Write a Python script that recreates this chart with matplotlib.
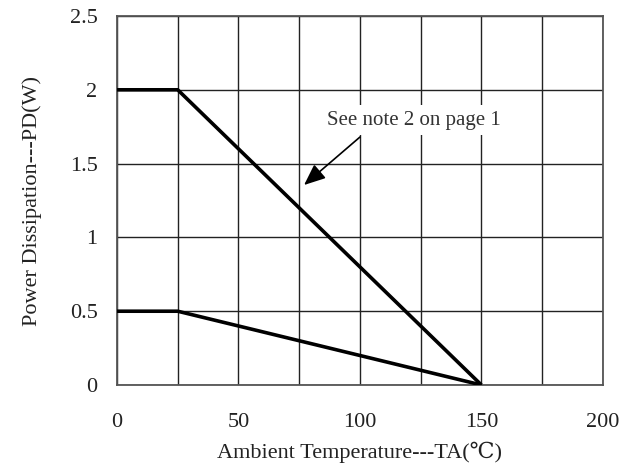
import matplotlib
matplotlib.use("Agg")
import matplotlib.pyplot as plt

# derating curves
temp = [0, 25, 150]
pd_high = [2.0, 2.0, 0.0]
pd_low = [0.5, 0.5, 0.0]

x_ticks = [0, 50, 100, 150, 200]
y_ticks = [0, 0.5, 1, 1.5, 2, 2.5]
y_tick_labels = ["0", "0.5", "1", "1.5", "2", "2.5"]

serif = ["Liberation Serif", "DejaVu Serif", "Noto Sans CJK SC"]
plt.rcParams['font.family'] = serif

fig = plt.figure(figsize=(6.34, 4.65), dpi=100)
ax = fig.add_axes([0.1845, 0.172, 0.7665, 0.7936])

ax.plot(temp, pd_high, color="black", lw=2.6, solid_capstyle="butt", zorder=3)
ax.plot(temp, pd_low, color="black", lw=2.6, solid_capstyle="butt", zorder=3)

ax.set_xlim(0, 200)
ax.set_ylim(0, 2.5)
ax.set_xticks(x_ticks)
ax.set_xticks([25, 75, 125, 175], minor=True)
ax.set_yticks(y_ticks)
ax.set_yticklabels(y_tick_labels)
ax.grid(True, which="both", color="#222222", lw=1.0)
ax.tick_params(which="both", length=0)
ax.tick_params(axis="x", pad=20, labelsize=16, colors="#222222")
ax.tick_params(axis="y", pad=14, labelsize=16, colors="#222222")
for s in ax.spines.values():
    s.set_color("#555555")
    s.set_linewidth(1.3)

ax.set_xlabel("Ambient Temperature---TA(℃)", fontsize=16, color="#222222", labelpad=7)
ax.set_ylabel("Power Dissipation---PD(W)", fontsize=16, color="#222222", labelpad=20)

# note with white box so the grid breaks behind it
ax.text(122, 1.795, "See note 2 on page 1", ha="center", va="center",
        fontsize=15, color="#333333", zorder=4,
        bbox=dict(facecolor="white", edgecolor="none", pad=4))
ax.annotate("", xy=(77, 1.355), xytext=(100, 1.68),
            arrowprops=dict(arrowstyle="-|>,head_length=1.3,head_width=0.55",
                            color="black", lw=1.2, shrinkA=0, shrinkB=0))

fig.savefig("out.png", dpi=100)
